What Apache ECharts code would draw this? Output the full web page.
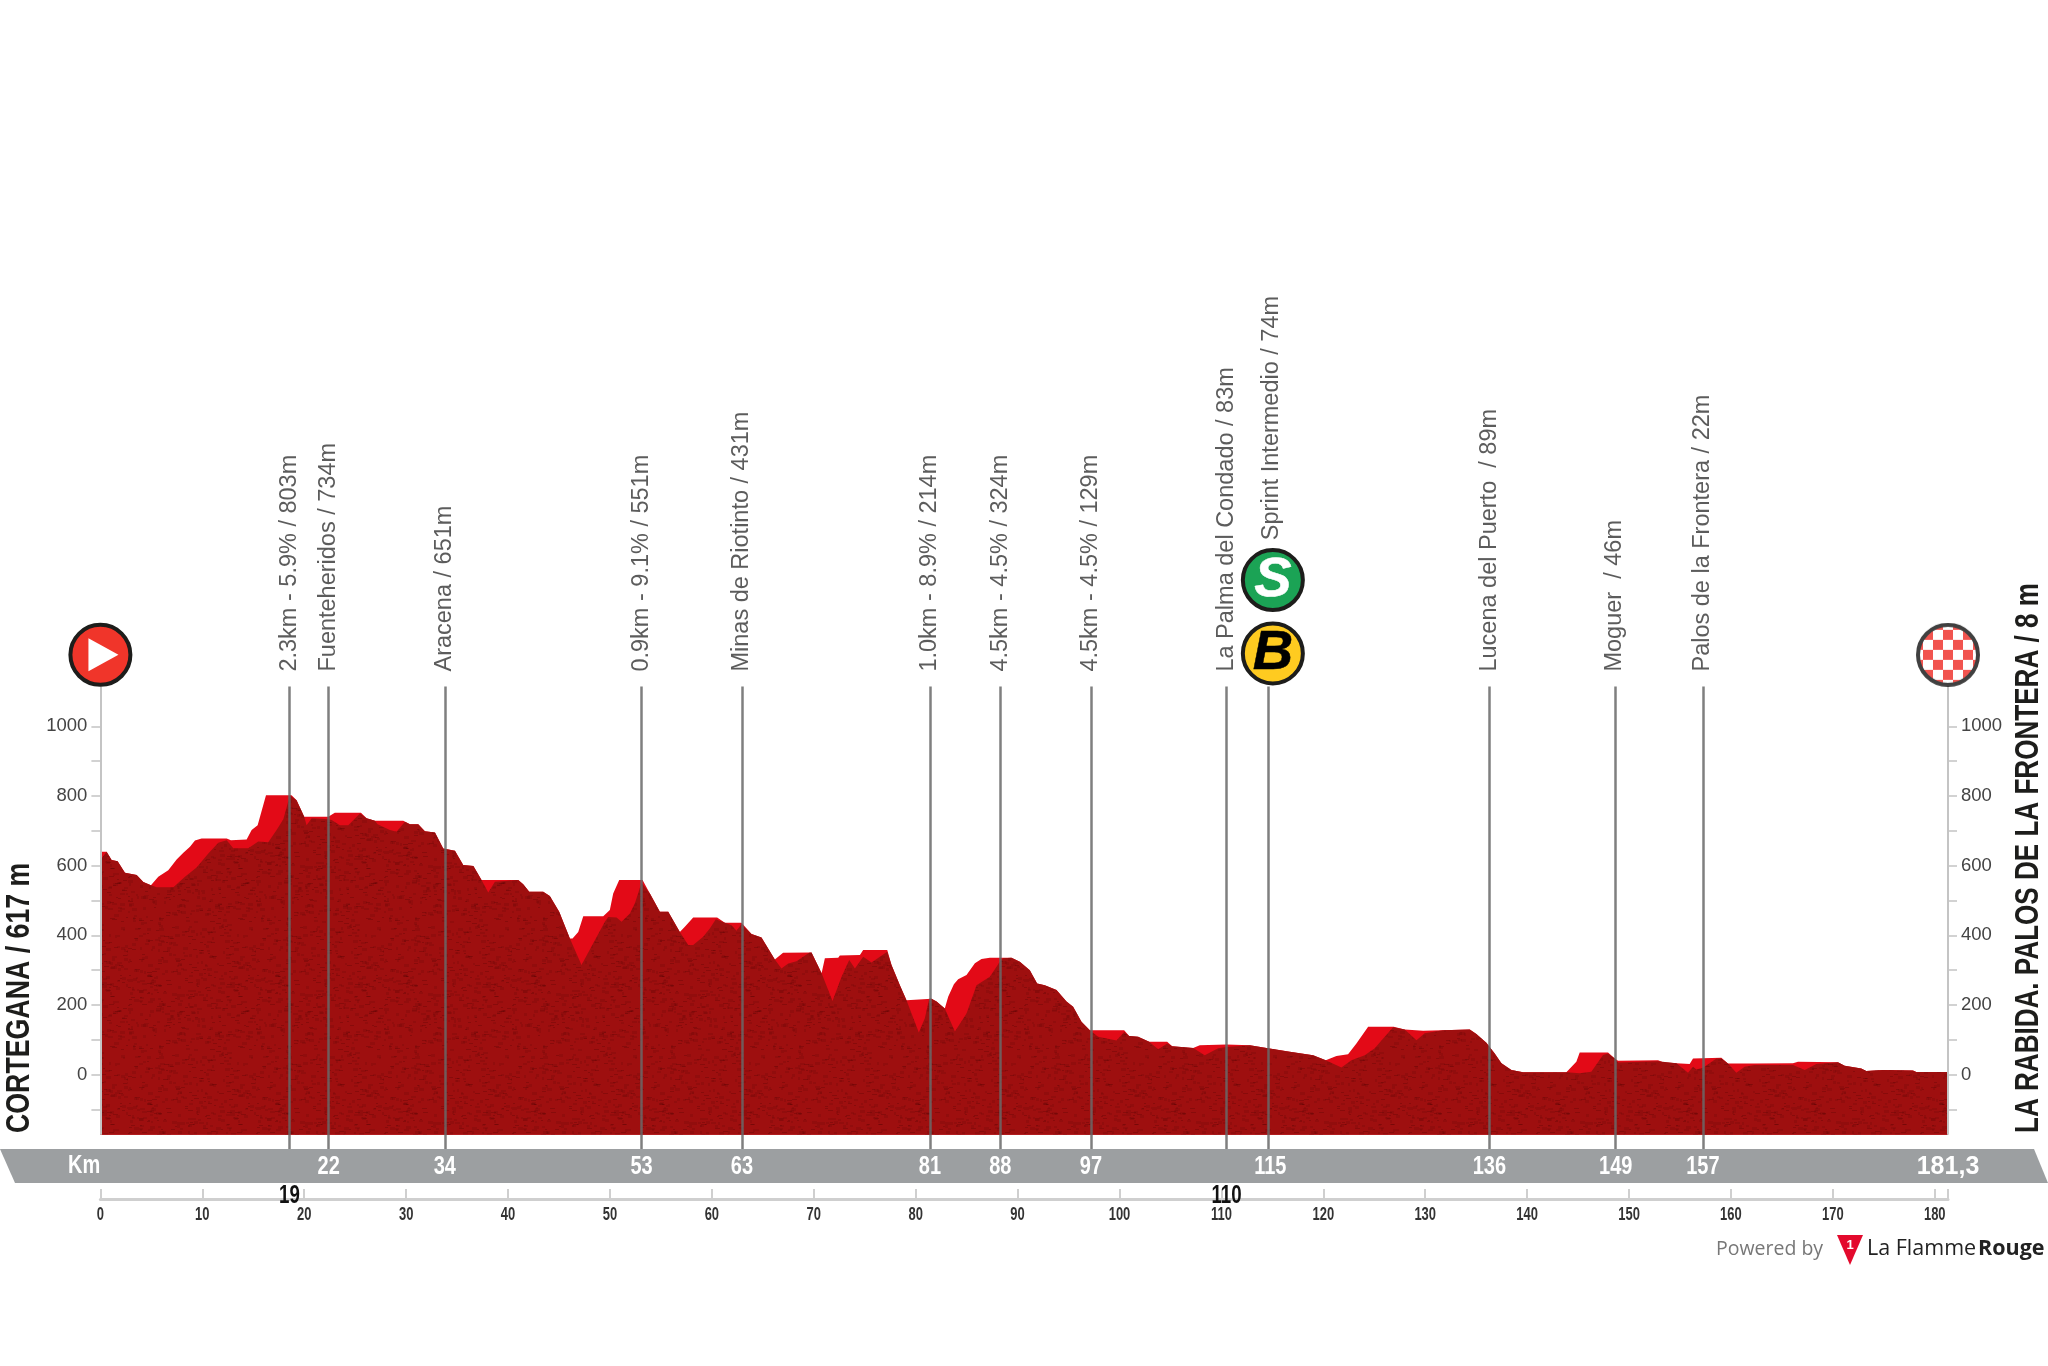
<!DOCTYPE html>
<html lang="en">
<head>
    <meta charset="UTF-8">
    <title>Cortegana - La Rabida</title>
    <script src="https://cdn.jsdelivr.net/npm/echarts@6/dist/echarts.min.js"></script>
    <style>
        body { margin: 0; background: #fff; }
    </style>
</head>
<body>
<div id="main" style="width: 2048px;height: 1366px"></div>

<script>
    // [km, metres]: bright road profile
    const roadProfile = [[0,640],[0.61,640],[1.1,616],[1.69,613],[2.41,580],[3.56,573],[4.21,553],[4.96,544],[5.68,568],[6.66,587],[7.48,618],[8.14,637],[8.79,654],[9.28,672],[9.93,678],[12.39,678],[12.81,673],[14.35,675],[14.84,702],[15.43,716],[16.25,802],[18.76,802],[19.25,788],[20,740],[22.36,740],[23,752],[25.57,752],[26.12,736],[26.94,729],[29.72,729],[30.37,719],[31.19,719],[31.84,699],[32.83,695],[33.64,649],[34.79,643],[35.6,602],[36.6,599],[37.4,559],[41,559],[41.49,547],[42.08,525],[43.45,525],[44.1,513],[45.02,468],[46.07,391],[46.33,391],[46.89,410],[47.38,455],[49.34,455],[49.99,473],[50.32,520],[50.91,559],[53.2,559],[53.92,520],[54.9,468],[55.72,468],[56.86,410],[57.35,425],[58.17,451],[60.52,451],[61.28,436],[62.91,436],[63.89,404],[64.87,394],[66.18,331],[66.99,350],[69.78,351],[70.77,291],[71.09,334],[72.4,336],[72.56,342],[74.53,344],[74.85,358],[77.21,358],[77.63,315],[78.45,257],[79.1,214],[81.56,218],[82.05,210],[82.86,190],[83.19,224],[83.75,260],[84.17,274],[84.99,286],[85.81,320],[86.46,332],[87.28,336],[89.4,336],[90.22,324],[91.2,300],[91.92,262],[92.67,257],[93.82,243],[94.8,210],[95.45,195],[96.27,152],[97.09,128],[100.46,128],[100.95,111],[101.83,109],[102.91,95],[104.68,95],[105.17,82],[107.23,77],[107.88,85],[110.5,87],[112.79,85],[114.58,76],[116.71,66],[119,56],[120.24,42],[121.29,54],[122.43,59],[123.25,90],[124.4,138],[126.91,138],[127.99,130],[129.79,126],[129.95,131],[134.37,130],[135.02,117],[136,92],[136.82,61],[137.48,33],[138.46,14],[139.6,7],[143.85,7],[144.83,37],[145.16,64],[147.94,64],[148.6,47],[148.92,40],[152.85,42],[153.34,36],[154.65,33],[155.95,31],[156.28,47],[159.06,49],[159.71,32],[162.33,32],[166.09,33],[166.58,37],[170.5,36],[171.16,26],[172.79,18],[173.28,11],[174.92,14],[177.86,12],[178.19,8],[181.3,8]];

    // [km, metres]: dark profile in front of the road
    const darkProfile = [[0,616],[0.61,640],[1.1,616],[1.69,613],[2.41,580],[3.56,573],[4.21,553],[4.96,544],[5.52,538],[7.16,538],[8.3,568],[9.44,595],[10.59,635],[11.57,666],[12.39,673],[13.04,650],[14.51,650],[15.49,669],[16.47,667],[17.29,702],[17.95,733],[18.6,802],[18.76,802],[19.25,788],[20,740],[20.23,716],[20.73,736],[22.36,733],[22.69,731],[23.5,716],[24.32,716],[25.47,750],[26.12,736],[26.94,729],[27.2,719],[28.41,702],[29.06,697],[29.88,726],[30.37,719],[31.19,719],[31.84,699],[32.83,695],[33.64,649],[34.79,643],[35.6,602],[36.6,599],[37.4,559],[38.06,523],[38.71,554],[41,559],[41.49,547],[42.08,525],[43.45,525],[44.1,513],[45.02,468],[46.07,391],[47.21,315],[48.52,386],[49.5,439],[49.83,453],[50.65,451],[51.14,439],[51.96,463],[52.45,492],[53.1,551],[53.92,520],[54.9,468],[55.72,468],[56.86,410],[57.68,372],[58.17,372],[59.15,396],[59.8,420],[60.39,446],[61.28,436],[61.93,429],[62.42,413],[62.91,432],[63.89,404],[64.87,394],[66.18,331],[66.83,305],[67.49,319],[68.31,326],[69.55,350],[69.78,351],[70.77,291],[71.84,212],[72.73,281],[73.48,329],[74.04,305],[74.85,339],[75.67,322],[76.49,339],[77.21,353],[77.63,315],[78.45,257],[79.1,214],[80.31,121],[80.9,162],[81.33,218],[81.56,218],[82.05,210],[82.86,190],[83.85,124],[84.99,176],[85.97,257],[87.28,281],[88.26,324],[88.59,334],[89.4,336],[90.22,324],[91.2,300],[91.92,262],[92.67,257],[93.82,243],[94.8,210],[95.45,195],[96.27,152],[97.09,128],[97.91,109],[99.71,98],[100.46,123],[100.95,111],[101.83,109],[102.91,95],[103.8,73],[104.68,90],[105.17,82],[107.23,77],[108.37,56],[109.68,76],[110.5,80],[112.79,85],[114.58,76],[116.71,66],[119,56],[120.24,42],[121.78,21],[122.76,42],[124.07,56],[125.05,76],[126.03,109],[126.85,136],[127.99,130],[129.14,99],[129.95,119],[131.75,128],[134.37,130],[135.02,117],[136,92],[136.82,61],[137.48,33],[138.46,14],[139.6,7],[143.85,7],[145.16,4],[146.3,9],[147.45,57],[147.94,61],[148.6,47],[148.92,35],[152.85,39],[154.65,33],[155.79,6],[156.28,23],[156.6,15],[157.26,20],[158.57,47],[159.06,47],[159.71,32],[160.53,6],[161.35,23],[162.33,28],[166.09,28],[167.24,14],[168.38,31],[170.5,36],[171.16,26],[172.79,18],[173.28,11],[174.92,14],[177.86,12],[178.19,8],[181.3,8]];

    const stopKm = [18.55, 22.4, 33.8, 53.1, 62.95, 81.4, 88.3, 97.2, 110.5, 114.6, 136.3, 148.6, 157.25];
    const stopNames = [
        '2.3km - 5.9% / 803m', 'Fuenteheridos / 734m', 'Aracena / 651m', '0.9km - 9.1% / 551m',
        'Minas de Riotinto / 431m', '1.0km - 8.9% / 214m', '4.5km - 4.5% / 324m', '4.5km - 4.5% / 129m',
        'La Palma del Condado / 83m', 'Sprint Intermedio / 74m', 'Lucena del Puerto  / 89m',
        'Moguer  / 46m', 'Palos de la Frontera / 22m'
    ];
    const bandKm = [22.4, 33.8, 53.1, 62.95, 81.4, 88.3, 97.2, 114.8, 136.3, 148.7, 157.25, 181.3];
    const bandLabels = ['22', '34', '53', '63', '81', '88', '97', '115', '136', '149', '157', '181,3'];
    const droppedKm = [18.55, 110.5];
    const droppedLabels = ['19', '110'];

    const elevTicks = [-100, 0, 100, 200, 300, 400, 500, 600, 700, 800, 900, 1000];
    const elevLabels = [0, 200, 400, 600, 800, 1000];
    const rulerTicks = [0, 10, 20, 30, 40, 50, 60, 70, 80, 90, 100, 110, 120, 130, 140, 150, 160, 170, 180, 181.3];
    const rulerLabels = [0, 10, 20, 30, 40, 50, 60, 70, 80, 90, 100, 110, 120, 130, 140, 150, 160, 170, 180];

    const startTitle = 'CORTEGANA / 617 m';
    const finishTitle = 'LA RABIDA. PALOS DE LA FRONTERA / 8 m';

    const totalKm = 181.3;
    const floorElev = -172;
    const axisTopElev = 1114;
    const sans = '"Liberation Sans", sans-serif';

    // speckled fill of the dark profile
    function speckle() {
        const c = document.createElement('canvas');
        c.width = c.height = 128;
        const ctx = c.getContext('2d');
        ctx.fillStyle = '#9e0f0f';
        ctx.fillRect(0, 0, 128, 128);
        for (let i = 0; i < 520; i++) {
            const x = (i * 73 + (i * i) % 41) % 128;
            const y = (i * 37 + (i * i * 3) % 59) % 128;
            ctx.fillStyle = i % 3 ? 'rgba(70,0,0,0.13)' : 'rgba(60,0,0,0.22)';
            ctx.fillRect(x, y, 2 + i % 4, 1 + i % 3);
        }
        return c;
    }

    // finish flag badge, drawn once at its final size and used as the symbol image
    function finishBadge() {
        const c = document.createElement('canvas');
        c.width = c.height = 64;
        const ctx = c.getContext('2d');
        ctx.save();
        ctx.beginPath();
        ctx.arc(32, 32, 31, 0, Math.PI * 2);
        ctx.clip();
        ctx.fillStyle = '#ffffff';
        ctx.fillRect(0, 0, 64, 64);
        ctx.fillStyle = '#ee2a24';
        for (let row = 0; row < 7; row++) {
            for (let col = 0; col < 7; col++) {
                if ((row + col) % 2 === 0) ctx.fillRect(col * 10 - 3, row * 10 - 3, 10, 10);
            }
        }
        ctx.restore();
        ctx.beginPath();
        ctx.arc(32, 32, 30, 0, Math.PI * 2);
        ctx.lineWidth = 4;
        ctx.strokeStyle = '#111';
        ctx.stroke();
        return c.toDataURL();
    }

    function icon(km, elev, fill, text, textColor) {
        return {
            type: 'scatter',
            xAxisIndex: 0,
            yAxisIndex: 0,
            symbol: 'circle',
            symbolSize: 60,
            clip: false,
            z: 6,
            silent: true,
            itemStyle: {color: fill, borderColor: '#1d1d1b', borderWidth: 4, opacity: 1},
            label: {
                show: !!text,
                position: 'inside',
                formatter: text,
                color: textColor,
                textBorderColor: textColor,
                textBorderWidth: 0.5,
                fontFamily: sans,
                fontStyle: 'italic',
                fontWeight: 'bold',
                fontSize: 56
            },
            data: [[km, elev]]
        };
    }

    // condensed numbers: no narrow font here, so squeeze the text sideways
    function squeezedText(points, labels, squeeze, style) {
        return {
            type: 'custom',
            xAxisIndex: 1,
            yAxisIndex: 2,
            silent: true,
            z: 5,
            data: points,
            renderItem: function (params, api) {
                const p = api.coord([api.value(0), api.value(1)]);
                const text = labels[params.dataIndex];
                return {
                    type: 'text',
                    x: p[0],
                    y: p[1],
                    scaleX: text.indexOf(',') > 0 ? 1 : squeeze,
                    style: Object.assign({text: text, textAlign: 'center', textVerticalAlign: 'middle'}, style)
                };
            }
        };
    }

    const chart = echarts.init(document.getElementById('main'), null, {renderer: 'canvas'});

    const yAxisBase = {
        type: 'value',
        gridIndex: 0,
        min: -213,
        max: 2797,
        splitLine: {show: false},
        axisLine: {show: false},
        axisTick: {show: true, length: 9, customValues: elevTicks, lineStyle: {color: '#c4c4c4', width: 1.5}},
        axisLabel: {
            show: true,
            customValues: elevLabels,
            margin: 13,
            color: '#444',
            fontSize: 18.5,
            fontFamily: sans,
            formatter: function (v) { return String(v); }
        }
    };

    chart.setOption({
        animation: false,
        grid: [
            {left: 100.4, width: 1847.6, top: 100, height: 1049},
            {left: 100.4, width: 1847.6, top: 1149, height: 50}
        ],
        xAxis: [
            {type: 'value', gridIndex: 0, min: 0, max: totalKm, show: false},
            {
                type: 'value',
                gridIndex: 1,
                min: 0,
                max: totalKm,
                position: 'bottom',
                splitLine: {show: false},
                axisLine: {show: true, lineStyle: {color: '#cfcfcf', width: 3}},
                axisTick: {show: true, inside: true, length: 10, customValues: rulerTicks, lineStyle: {color: '#cfcfcf', width: 2}},
                axisLabel: {show: false}
            }
        ],
        yAxis: [
            Object.assign({}, yAxisBase, {position: 'left'}),
            Object.assign({}, yAxisBase, {position: 'right'}),
            {type: 'value', gridIndex: 1, min: 0, max: 50, show: false}
        ],
        graphic: [
            {
                type: 'polygon',
                z: 0,
                shape: {points: [[0, 1149], [2034, 1149], [2048, 1183], [15, 1183]]},
                style: {fill: '#9c9fa1'}
            },
            {
                type: 'text', x: 20, y: 1133, rotation: Math.PI / 2, scaleX: 0.81, z: 5,
                style: {text: startTitle, fill: '#1d1d1b', font: 'bold 33px ' + sans, textAlign: 'left', textVerticalAlign: 'middle'}
            },
            {
                type: 'text', x: 2029, y: 1133, rotation: Math.PI / 2, scaleX: 0.79, z: 5,
                style: {text: finishTitle, fill: '#1d1d1b', font: 'bold 33px ' + sans, textAlign: 'left', textVerticalAlign: 'middle'}
            },
            {
                type: 'text', x: 1716, y: 1249, z: 5,
                style: {text: 'Powered by', fill: '#777', font: '19.5px "Open Sans", sans-serif', textAlign: 'left', textVerticalAlign: 'middle'}
            },
            {
                type: 'polygon', z: 5,
                shape: {points: [[1837, 1235], [1863, 1235], [1850, 1265]]},
                style: {fill: '#e30a2d'}
            },
            {
                type: 'text', x: 1850, y: 1245, z: 6,
                style: {text: '1', fill: '#fff', font: 'bold 13px ' + sans, textAlign: 'center', textVerticalAlign: 'middle'}
            },
            {
                type: 'text', x: 1867, y: 1249, z: 5,
                style: {text: 'La Flamme', fill: '#222', font: '21.5px "Open Sans", sans-serif', textAlign: 'left', textVerticalAlign: 'middle'}
            },
            {
                type: 'text', x: 1978, y: 1249, z: 5,
                style: {text: 'Rouge', fill: '#222', font: 'bold 21.5px "Open Sans", sans-serif', textAlign: 'left', textVerticalAlign: 'middle'}
            }
        ],
        series: [
            {
                type: 'line',
                xAxisIndex: 0,
                yAxisIndex: 0,
                showSymbol: false,
                silent: true,
                z: 2,
                lineStyle: {width: 0},
                areaStyle: {color: '#e30a17', opacity: 1, origin: floorElev},
                data: roadProfile
            },
            {
                type: 'line',
                xAxisIndex: 0,
                yAxisIndex: 0,
                showSymbol: false,
                silent: true,
                z: 3,
                lineStyle: {width: 0},
                areaStyle: {color: {image: speckle(), repeat: 'repeat'}, opacity: 1, origin: floorElev},
                data: darkProfile,
                markLine: {
                    silent: true,
                    symbol: 'none',
                    z: 4,
                    label: {show: false},
                    lineStyle: {type: 'solid', color: 'rgba(105,105,105,0.85)', width: 2.5},
                    data: stopKm.map(function (km) {
                        return [{coord: [km, -213]}, {coord: [km, axisTopElev]}];
                    })
                }
            },
            {
                // the two elevation axes stop at the top of the profile box
                type: 'line',
                xAxisIndex: 0,
                yAxisIndex: 0,
                showSymbol: false,
                silent: true,
                z: 1,
                lineStyle: {width: 0},
                data: [],
                markLine: {
                    silent: true,
                    symbol: 'none',
                    label: {show: false},
                    lineStyle: {type: 'solid', color: '#c4c4c4', width: 2},
                    data: [0, totalKm].map(function (km) {
                        return [{coord: [km, floorElev]}, {coord: [km, axisTopElev]}];
                    })
                }
            },
            {
                // names above the stop lines
                type: 'scatter',
                xAxisIndex: 0,
                yAxisIndex: 0,
                symbolSize: 0,
                silent: true,
                clip: false,
                z: 5,
                label: {
                    show: true,
                    position: [0, 0],
                    rotate: 90,
                    align: 'left',
                    verticalAlign: 'middle',
                    color: '#333',
                    fontSize: 23.5,
                    fontFamily: sans,
                    formatter: function (p) { return p.name; }
                },
                data: stopNames.map(function (name, i) {
                    const sprint = name.indexOf('Sprint') === 0;
                    return {name: name, value: [sprint ? stopKm[i] + 0.3 : stopKm[i], sprint ? 1534 : 1157]};
                })
            },
            squeezedText(bandKm.map(function (km) { return [km, 32]; }), bandLabels, 0.8,
                {fill: '#fff', font: 'bold 25px ' + sans}),
            squeezedText([[-1.6, 33]], ['Km'], 0.8, {fill: '#fff', font: 'bold 25px ' + sans}),
            squeezedText(droppedKm.map(function (km) { return [km, 3]; }), droppedLabels, 0.72,
                {fill: '#111', font: 'bold 26px ' + sans}),
            squeezedText(rulerLabels.map(function (km) { return [km, -16]; }), rulerLabels.map(String), 0.72,
                {fill: '#333', font: 'bold 18px ' + sans}),
            icon(0, 1205, '#f0352a'),
            {
                type: 'scatter',
                xAxisIndex: 0,
                yAxisIndex: 0,
                symbol: 'triangle',
                symbolSize: [33, 30],
                symbolRotate: -90,
                clip: false,
                silent: true,
                z: 7,
                itemStyle: {color: '#fff', opacity: 1},
                data: [[0.3, 1205]]
            },
            {
                type: 'scatter',
                xAxisIndex: 0,
                yAxisIndex: 0,
                symbol: 'image://' + finishBadge(),
                symbolSize: 64,
                clip: false,
                silent: true,
                z: 6,
                data: [[totalKm, 1205]]
            },
            icon(115.05, 1419.5, '#1ba355', 'S', '#fff'),
            icon(115.05, 1209, '#ffcb20', 'B', '#000')
        ]
    });
</script>
</body>
</html>
